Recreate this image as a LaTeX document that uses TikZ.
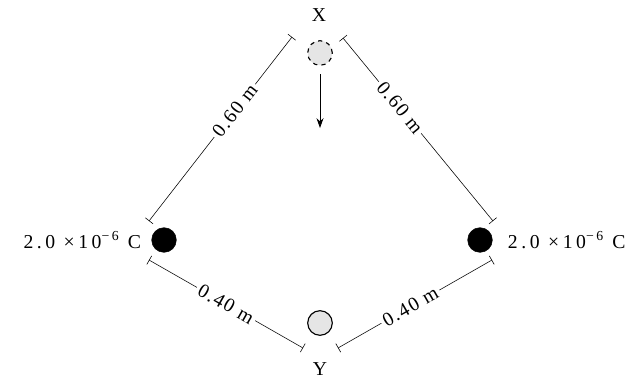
\documentclass[tikz,border=0pt]{standalone}
\usepackage{fontspec}
\setmainfont{Liberation Serif}
\usetikzlibrary{arrows.meta, positioning}

\begin{document}
\begin{tikzpicture}[
        x=0.025cm, y=-0.025cm,
        every node/.style={font=\fontsize{14}{16}\selectfont\addfontfeature{LetterSpace=8}},
        qtext/.style={font=\fontsize{14}{16}\selectfont\addfontfeature{LetterSpace=18}},
        charge/.style={circle, draw, fill=black, minimum size=17.5pt, inner sep=0pt},
        probe/.style={circle, draw, thick, fill=gray!20, minimum size=17.5pt, inner sep=0pt},
        dim/.style={{Bar[width=7pt]}-{Bar[width=7pt]}, thin},
        lbl/.style={sloped, fill=white, inner sep=2pt},
        arr/.style={-{Stealth[length=7pt, width=5pt]}, semithick}
    ]
        \useasboundingbox (0,0) rectangle (630,383);

        % charges and the test charge
        \node[probe, dashed] (X) at (320,53) {};
        \node[probe] (Y) at (320,323) {};
        \node[charge] (qL) at (164,240) {};
        \node[charge] (qR) at (480,240) {};

        \node (xlab) at (319,15) {X};
        \node (ylab) at (320,369) {Y};
        \node[qtext, anchor=east] (qLlab) at (146,240) {2.0 ×10\textsuperscript{−6} C};
        \node[qtext, anchor=west] (qRlab) at (503,240) {2.0 ×10\textsuperscript{−6} C};

        \coordinate (fall) at (320,128);
        \draw[arr, shorten <=6pt] (X) -- (fall);

        % distances
        \coordinate (d1a) at (292,37);  \coordinate (d1b) at (149,221);
        \coordinate (d2a) at (343,38);  \coordinate (d2b) at (493,221);
        \coordinate (d3a) at (149,260); \coordinate (d3b) at (303,348);
        \coordinate (d4a) at (338,348); \coordinate (d4b) at (492,260);
        \draw[dim] (d1a) -- node[lbl, pos=0.4] {0.60 m} (d1b);
        \draw[dim] (d2a) -- node[lbl, pos=0.38] {0.60 m} (d2b);
        \draw[dim] (d3a) -- node[lbl, pos=0.5] {0.40 m} (d3b);
        \draw[dim] (d4a) -- node[lbl, pos=0.47] {0.40 m} (d4b);
    \end{tikzpicture}
\end{document}
